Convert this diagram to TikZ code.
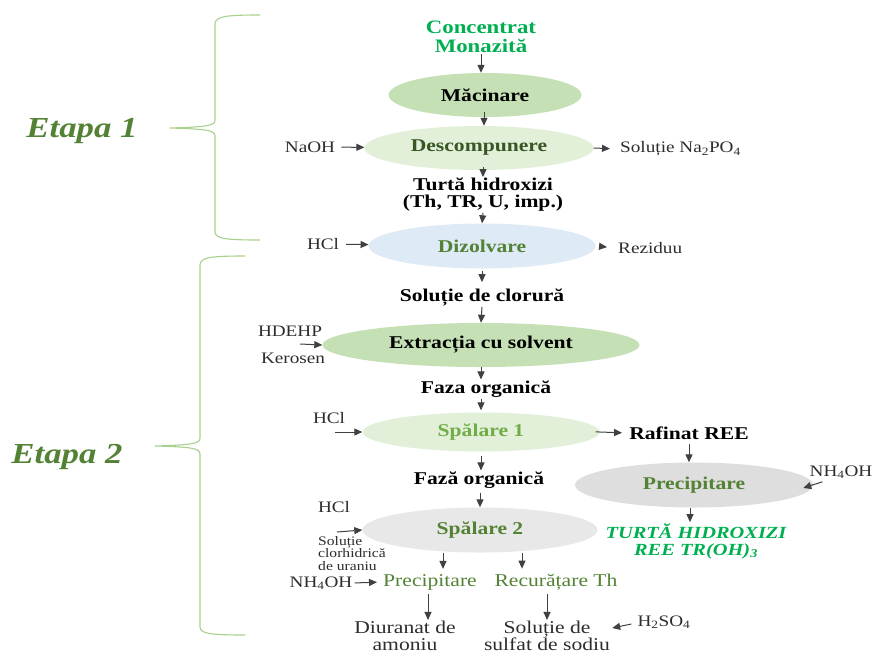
\documentclass[tikz,border=0pt]{standalone}
\usepackage{fontspec}
\setmainfont[FakeStretch=1.2]{Liberation Serif}
\definecolor{titlegreen}{RGB}{0,176,80}
\definecolor{etapagreen}{RGB}{84,130,53}
\definecolor{darkgreen}{RGB}{56,87,35}
\definecolor{midgreen}{RGB}{84,130,53}
\definecolor{lightgreen}{RGB}{112,173,71}
\definecolor{fillgreen}{RGB}{197,224,180}
\definecolor{filllight}{RGB}{226,240,217}
\definecolor{fillblue}{RGB}{222,235,247}
\definecolor{fillgray}{RGB}{222,222,222}
\definecolor{fillgray2}{RGB}{232,232,232}
\definecolor{bracegreen}{RGB}{169,209,142}
\definecolor{arrowgray}{RGB}{64,64,64}
\definecolor{sidegray}{RGB}{45,45,45}
\usetikzlibrary{arrows.meta,shapes.geometric}

\begin{document}
\begin{tikzpicture}[x=1pt, y=-1pt,
  arr/.style={-{Triangle[length=8pt,width=7pt]}, arrowgray, line width=1pt},
  stage/.style={ellipse, inner sep=0pt, font=\fontsize{18}{20}\selectfont\bfseries},
  lbl/.style={inner sep=1pt, font=\fontsize{18}{17}\selectfont\bfseries, align=center},
  side/.style={inner sep=1pt, text=sidegray, font=\fontsize{16}{18}\selectfont},
  note/.style={inner sep=1pt, text=sidegray},
  prod/.style={inner sep=1pt, text=sidegray, font=\fontsize{18}{17}\selectfont, align=center},
  brace/.style={bracegreen, line width=1.1pt},
  etapa/.style={etapagreen, font=\fontsize{29}{30}\selectfont\bfseries\itshape}]

\useasboundingbox[fill=white] (0,0) rectangle (873,654);

% --- Etapa 1 ---
\draw[brace] (260,15) .. controls (228,15) and (215,16) .. (215,24) -- (215,120)
   .. controls (215,126) and (205,127) .. (170,128)
   .. controls (205,129) and (215,130) .. (215,136) -- (215,232)
   .. controls (215,239) and (228,240) .. (260,240);
\node[etapa] (etapa1) at (82,131) {Etapa 1};

\node[lbl, text=titlegreen, font=\fontsize{19}{19}\selectfont\bfseries] (conc) at (481,37) {Concentrat\\Monazită};
\node[stage, fill=fillgreen, minimum width=193pt, minimum height=44pt] (mac) at (485,95) {Măcinare};
\node[stage, fill=filllight, text=darkgreen, minimum width=229pt, minimum height=44pt] (desc) at (479,148) {Descompunere};
\node[side] (naoh) at (310,147) {NaOH};
\node[side, anchor=west] (solna) at (619,149) {Soluție Na\textsubscript{2}PO\textsubscript{4}};
\node[lbl] (turta) at (483,195) {Turtă hidroxizi\\(Th, TR, U, imp.)};

\draw[arr] (conc.south) -- (conc.south |- mac.north);
\draw[arr] ([xshift=-1pt,yshift=5pt]mac.south) -- ([xshift=-1pt]mac.south |- desc.north);
\draw[arr, shorten <=5pt] (naoh) -- (desc);
\draw[arr, shorten >=9pt] (desc.east) -- (solna.west);
\draw[arr] ([xshift=4pt,yshift=3pt]desc.south) -- (turta.north);

% --- Etapa 2 ---
\draw[brace] (245,256) .. controls (213,256) and (200,257) .. (200,265) -- (200,438)
   .. controls (200,444) and (190,445) .. (155,446)
   .. controls (190,447) and (200,448) .. (200,454) -- (200,627)
   .. controls (200,634) and (213,635) .. (245,635);
\node[etapa] (etapa2) at (67,457) {Etapa 2};

\node[stage, fill=fillblue, text=midgreen, minimum width=227pt, minimum height=45pt] (diz) at (482,246) {Dizolvare};
\node[side] (hcla) at (323,244) {HCl};
\node[side, anchor=west] (rez) at (617,248) {Reziduu};
\node[lbl] (solcl) at (482,297) {Soluție de clorură};
\node[stage, fill=fillgreen, minimum width=317pt, minimum height=44pt] (extr) at (481,345) {Extracția cu solvent};
\node[side] (hdehp) at (290,331) {HDEHP};
\node[side] (kero) at (293,358) {Kerosen};
\coordinate (inextr) at (300,344);
\node[lbl] (faza) at (486,389) {Faza organică};

\draw[arr] (turta.south) -- (diz.north);
\draw[arr, shorten <=6pt] (hcla) -- (diz);
\draw[arr, shorten <=7pt, shorten >=10pt] (diz.east) -- (rez.west);
\draw[arr, shorten <=2pt, shorten >=5pt] (diz.south) -- (solcl.north);
\draw[arr] (solcl.south) -- (extr.north);
\draw[arr] (inextr) -- (extr.west);
\draw[arr] (extr.south) -- (extr.south |- faza.north);

% Spalare 1 and REE branch
\node[stage, fill=filllight, text=lightgreen, minimum width=237pt, minimum height=39pt] (sp1) at (481,432) {Spălare 1};
\node[side] (hclb) at (329,418) {HCl};
\coordinate (insp1) at (335,432);
\node[lbl] (raf) at (689,433) {Rafinat REE};
\node[stage, fill=fillgray, text=midgreen, minimum width=238pt, minimum height=45pt] (prec) at (694,485) {Precipitare};
\node[side] (nhr) at (841,472) {NH\textsubscript{4}OH};
\node[lbl, text=titlegreen, font=\fontsize{17}{17}\selectfont\bfseries\itshape] (turtr) at (696,541) {TURTĂ HIDROXIZI\\REE TR(OH)\textsubscript{3}};

\draw[arr, shorten >=2pt] (faza.south -| sp1.north) -- (sp1.north);
\draw[arr] (insp1) -- (sp1.west);
\draw[arr, shorten <=-4pt, shorten >=6pt] (sp1.east) -- (raf.west);
\draw[arr, shorten <=3pt] (raf.south) -- (raf.south |- prec.north);
\draw[arr] ([xshift=14pt,yshift=-2pt]nhr.south west) -- ([xshift=-10pt,yshift=-3pt]prec.east);
\draw[arr] ([xshift=-4pt]prec.south) -- ([xshift=-4pt]prec.south |- turtr.north);

% Spalare 2
\node[lbl] (faza2) at (479,480) {Fază organică};
\node[stage, fill=fillgray2, text=midgreen, minimum width=235pt, minimum height=45pt] (sp2) at (480,530) {Spălare 2};
\node[side] (hclc) at (334,507) {HCl};
\coordinate (insp2) at (337,532);
\node[note, anchor=north west] (solur) at (317,535)
  {\fontsize{13}{12.5}\selectfont\begin{tabular}{@{}l@{}}Soluție\\clorhidrică\\de uraniu\end{tabular}};

\draw[arr, shorten <=4pt] (sp1.south) -- (sp1.south |- faza2.north);
\draw[arr, shorten <=3pt] (faza2.south -| sp2.north) -- (sp2.north);
\draw[arr] (insp2) -- (sp2.west);

% Products
\node[prod, text=midgreen] (precu) at (430,582) {Precipitare};
\node[prod, text=midgreen] (recth) at (556,582) {Recurățare Th};
\node[side] (nhl) at (321,583) {NH\textsubscript{4}OH};
\node[prod] (diur) at (405,636) {Diuranat de\\amoniu};
\node[prod] (soldn) at (547,636) {Soluție de\\sulfat de sodiu};
\node[side] (hso) at (664,622) {H\textsubscript{2}SO\textsubscript{4}};

\draw[arr, shorten >=4pt] ([xshift=-37pt]sp2.south) -- ([xshift=-37pt]sp2.south |- precu.north);
\draw[arr, shorten >=4pt] ([xshift=42pt]sp2.south) -- ([xshift=42pt]sp2.south |- recth.north);
\draw[arr, shorten <=1pt, shorten >=5pt] (nhl.east) -- (precu.west);
\draw[arr, shorten <=3pt] ([xshift=-2pt]precu.south) -- ([xshift=-2pt]precu.south |- diur.north);
\draw[arr, shorten <=3pt] (recth.south -| soldn.north) -- (soldn.north);
\draw[arr] ([xshift=-5pt,yshift=-2pt]hso.west) -- ([xshift=1pt,yshift=8pt]soldn.east);

\end{tikzpicture}
\end{document}
